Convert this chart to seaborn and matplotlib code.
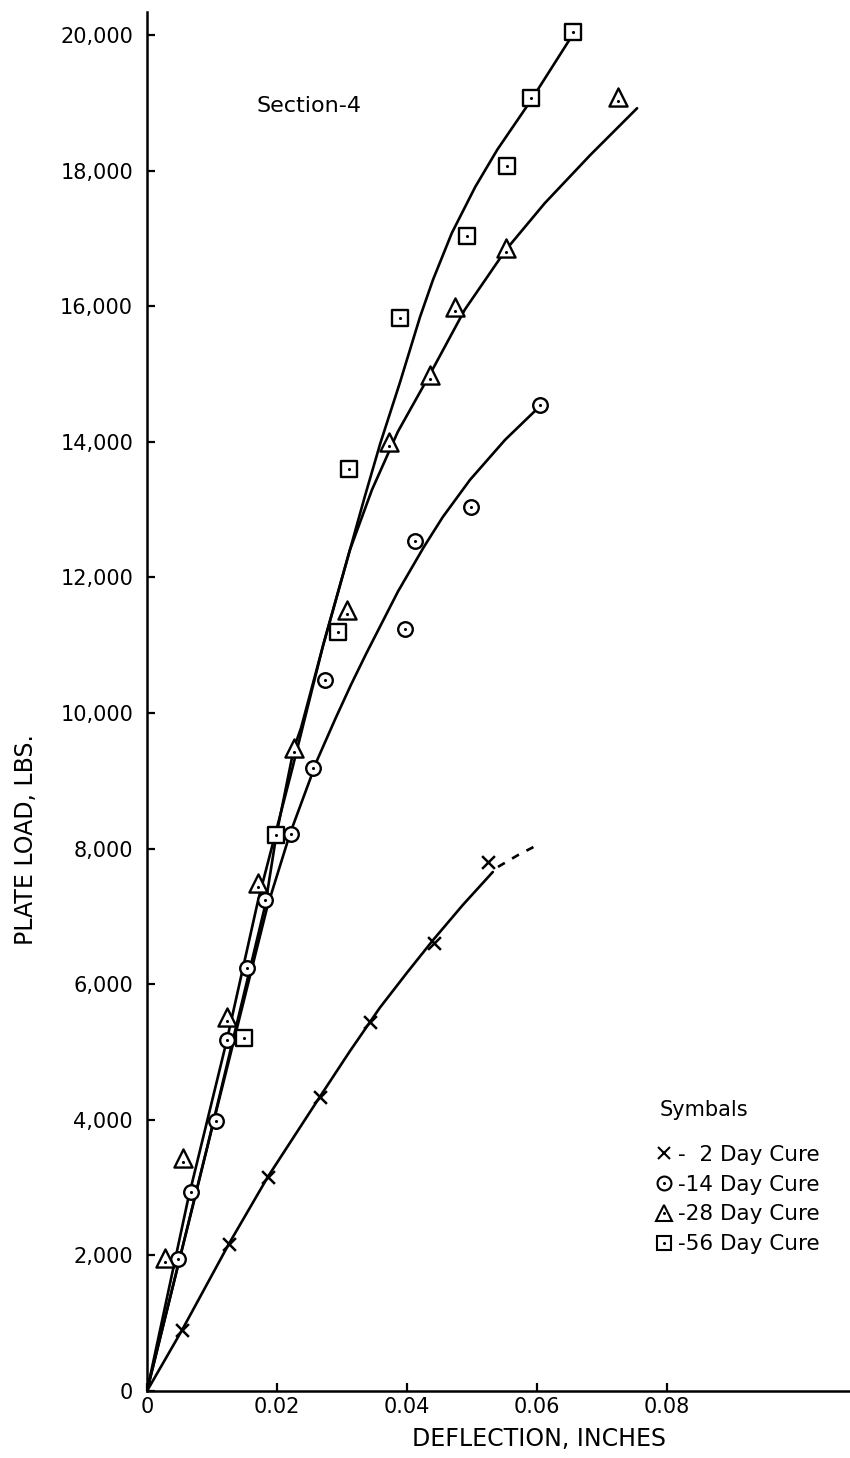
import matplotlib
matplotlib.use("Agg")
import matplotlib.pyplot as plt
import seaborn as sns
from matplotlib.lines import Line2D
from matplotlib.ticker import FixedLocator, FuncFormatter

# ---------------- data (deflection in inches, plate load in lbs) ----------------
# measured points
d2 = [0.0054, 0.0126, 0.0186, 0.0266, 0.0343, 0.0442, 0.0525]
p2 = [900, 2170, 3160, 4340, 5440, 6610, 7800]

d14 = [0.0048, 0.0068, 0.0106, 0.0123, 0.0154, 0.0182, 0.0222, 0.0255, 0.0274,
       0.0397, 0.0412, 0.0498, 0.0605]
p14 = [1950, 2940, 3980, 5180, 6240, 7240, 8220, 9190, 10490, 11240, 12540,
       13040, 14540]

d28 = [0.0028, 0.0055, 0.0123, 0.0171, 0.0226, 0.0308, 0.0372, 0.0435, 0.0474,
       0.0552, 0.0725]
p28 = [1960, 3440, 5520, 7490, 9480, 11520, 14000, 14990, 15990, 16860, 19090]

d56 = [0.0149, 0.0199, 0.0294, 0.0311, 0.0389, 0.0492, 0.0554, 0.0591, 0.0655]
p56 = [5210, 8200, 11200, 13600, 15830, 17040, 18070, 19070, 20040]

# hand-drawn fitted curves
c2_d = [0, 0.0054, 0.0126, 0.0186, 0.0266, 0.0312, 0.0358, 0.0400, 0.0440, 0.0486, 0.0532]
c2_p = [0, 900, 2170, 3160, 4340, 5010, 5650, 6170, 6650, 7170, 7655]
c2x_d = [0.0540, 0.0571, 0.0600]          # dashed extrapolation
c2x_p = [7730, 7906, 8050]

c14_d = [0, 0.0092, 0.0185, 0.0220, 0.0262, 0.0290, 0.0314, 0.0338, 0.0386,
         0.0426, 0.0455, 0.0497, 0.0551, 0.0605]
c14_p = [0, 3570, 7140, 8220, 9310, 9920, 10420, 10890, 11790, 12450, 12890,
         13440, 14030, 14530]

c28_d = [0, 0.0063, 0.0123, 0.0171, 0.0223, 0.0271, 0.0312, 0.0346, 0.0386,
         0.0435, 0.0489, 0.0552, 0.0612, 0.0682, 0.0754]
c28_p = [0, 2820, 5180, 7240, 9160, 11000, 12400, 13290, 14150, 14990, 15950,
         16830, 17520, 18230, 18920]

c56_d = [0, 0.0092, 0.0182, 0.0199, 0.0226, 0.0237, 0.0271, 0.0312, 0.0335,
         0.0359, 0.0389, 0.0420, 0.0440, 0.0469, 0.0505, 0.0539, 0.0591, 0.0650]
c56_p = [0, 3570, 7170, 8200, 9480, 9780, 11000, 12400, 13190, 13980, 14870,
         15840, 16390, 17080, 17760, 18310, 19040, 19930]

x_ticks = [0, 0.02, 0.04, 0.06, 0.08]
x_tick_labels = ["0", "0.02", "0.04", "0.06", "0.08"]
y_ticks = [0, 2000, 4000, 6000, 8000, 10000, 12000, 14000, 16000, 18000, 20000]

legend_labels = ["-  2 Day Cure", "-14 Day Cure", "-28 Day Cure", "-56 Day Cure"]

# ---------------- figure ----------------
sns.set_theme(style="ticks")
plt.rcParams["font.family"] = ["DejaVu Sans"]

W, H = 850, 1458
fig = plt.figure(figsize=(W / 100, H / 100), dpi=100, facecolor="white")
ax_left, ax_bottom = 147 / W, 1 - 1391 / H
ax = fig.add_axes([ax_left, ax_bottom, 1 - ax_left, (1391 - 12) / H])
ax.set_facecolor("white")

LW = 1.9
K = "black"

def curve(x, y, **kw):
    sns.lineplot(x=x, y=y, ax=ax, sort=False, estimator=None, color=K,
                 linewidth=LW, zorder=2, **kw)

curve(c2_d, c2_p)
curve(c2x_d, c2x_p, dashes=(3, 3.2))
curve(c14_d, c14_p)
curve(c28_d, c28_p)
curve(c56_d, c56_p)
for ln in ax.get_lines():
    ln.set_solid_joinstyle("round")

# markers
sns.scatterplot(x=d2, y=p2, ax=ax, marker="x", s=85, color=K, linewidth=1.8,
                zorder=4)
sns.scatterplot(x=d14, y=p14, ax=ax, marker="o", s=110, facecolor="white",
                edgecolor=K, linewidth=1.7, zorder=4)
sns.scatterplot(x=d28, y=p28, ax=ax, marker="^", s=170, facecolor="white",
                edgecolor=K, linewidth=1.7, zorder=4)
sns.scatterplot(x=d56, y=p56, ax=ax, marker="s", s=120, facecolor="white",
                edgecolor=K, linewidth=1.7, zorder=4)
# centre dots of the hollow symbols
for xs, ys, dy in ((d14, p14, 0), (d28, p28, -60), (d56, p56, 0)):
    sns.scatterplot(x=xs, y=[v + dy for v in ys], ax=ax, marker="o", s=5,
                    color=K, linewidth=0, zorder=5)

# axes
ax.set_xlim(0, (W - 147) / 6500)
ax.set_ylim(0, (1391 - 12) / 0.0678)
ax.xaxis.set_major_locator(FixedLocator(x_ticks))
ax.set_xticklabels(x_tick_labels)
ax.yaxis.set_major_locator(FixedLocator(y_ticks))
ax.yaxis.set_major_formatter(FuncFormatter(lambda v, _: f"{int(v):,}"))
ax.tick_params(axis="both", direction="in", length=6, width=1.6,
               labelsize=15, colors=K)
ax.tick_params(axis="y", pad=10)
ax.tick_params(axis="x", pad=4)
sns.despine(ax=ax, top=True, right=True)
for s in ("left", "bottom"):
    ax.spines[s].set_linewidth(1.8)
    ax.spines[s].set_color(K)

ax.set_xlabel("DEFLECTION, INCHES", fontsize=17, color=K)
ax.set_ylabel("PLATE LOAD, LBS.", fontsize=17, color=K)
ax.xaxis.set_label_coords((539 - 147) / (W - 147), -0.026)
ax.yaxis.set_label_coords((38 - 147) / (W - 147), 0.40)

ax.text((256 - 147) / (W - 147), (1391 - 112) / 1379, "Section-4",
        transform=ax.transAxes, fontsize=16, color=K, ha="left", va="baseline")
ax.text((660 - 147) / (W - 147), (1391 - 1116) / 1379, "Symbals",
        transform=ax.transAxes, fontsize=15, color=K, ha="left", va="baseline")

# legend
dot = lambda: Line2D([], [], ls="none", marker="o", ms=2.2, color=K, mew=0)
handles = [
    Line2D([], [], ls="none", marker="x", ms=8, mew=1.5, color=K),
    (Line2D([], [], ls="none", marker="o", ms=10, mfc="white", mec=K, mew=1.5), dot()),
    (Line2D([], [], ls="none", marker="^", ms=12, mfc="white", mec=K, mew=1.5), dot()),
    (Line2D([], [], ls="none", marker="s", ms=10, mfc="white", mec=K, mew=1.5), dot()),
]
fig.legend(handles, legend_labels, loc="upper left",
           bbox_to_anchor=(655 / W, 1 - 1145 / H), frameon=False, fontsize=15.5,
           handlelength=0.8, handletextpad=0.25, labelspacing=0.45,
           borderpad=0, borderaxespad=0, labelcolor=K)

fig.savefig("out.png", dpi=100, facecolor="white")
